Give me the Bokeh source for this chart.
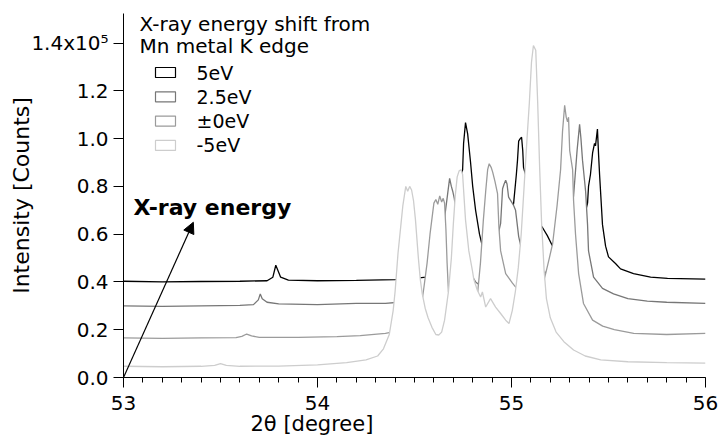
import math
from bokeh.plotting import figure
from bokeh.models import (Range1d, FixedTicker, SingleIntervalTicker, Label, Arrow,
                          NormalHead, BoxAnnotation, ColumnDataSource, Title)
from bokeh.embed import file_html
from bokeh.resources import INLINE

# ---------------- data ----------------
series_names = ["5eV", "2.5eV", "\u00b10eV", "-5eV"]

x_5eV = [53.00, 53.20, 53.40, 53.60, 53.74, 53.77, 53.785, 53.795, 53.81, 53.85,
         54.00, 54.20, 54.40, 54.50, 54.56, 54.62, 54.66, 54.70, 54.72, 54.74,
         54.748, 54.753, 54.763, 54.774, 54.789, 54.80, 54.815, 54.835, 54.851, 54.88,
         54.92, 54.96, 55.00, 55.011, 55.025, 55.031, 55.037, 55.045, 55.052, 55.058,
         55.062, 55.072, 55.083, 55.10, 55.13, 55.158, 55.184, 55.21, 55.25, 55.30,
         55.35, 55.38, 55.392, 55.397, 55.407, 55.418, 55.428, 55.433, 55.443, 55.449,
         55.454, 55.459, 55.469, 55.485, 55.50, 55.536, 55.562, 55.629, 55.717, 55.804,
         56.00]
y_5eV = [0.403, 0.400, 0.402, 0.403, 0.405, 0.420, 0.470, 0.450, 0.420, 0.408,
         0.405, 0.407, 0.410, 0.415, 0.420, 0.440, 0.480, 0.580, 0.700, 0.850,
         0.870, 0.980, 1.067, 1.020, 0.900, 0.800, 0.700, 0.600, 0.546, 0.540,
         0.560, 0.620, 0.680, 0.730, 0.850, 0.910, 0.990, 1.000, 1.006, 0.950,
         0.880, 0.850, 0.810, 0.720, 0.660, 0.630, 0.595, 0.553, 0.560, 0.600,
         0.650, 0.690, 0.730, 0.800, 0.850, 0.940, 0.980, 0.970, 1.040, 0.930,
         0.850, 0.780, 0.640, 0.550, 0.505, 0.477, 0.455, 0.435, 0.420, 0.415,
         0.412]

x_2p5eV = [53.00, 53.20, 53.40, 53.60, 53.67, 53.695, 53.705, 53.715, 53.74, 53.80,
           54.00, 54.20, 54.35, 54.42, 54.50, 54.54, 54.55, 54.57, 54.60, 54.625,
           54.645, 54.66, 54.671, 54.681, 54.69, 54.697, 54.705, 54.712, 54.725, 54.74,
           54.76, 54.785, 54.80, 54.815, 54.83, 54.85, 54.87, 54.89, 54.92, 54.944,
           54.954, 54.962, 54.970, 54.977, 54.985, 55.000, 55.011, 55.021, 55.037, 55.062,
           55.09, 55.13, 55.176, 55.20, 55.23, 55.26, 55.29, 55.32, 55.338, 55.351,
           55.358, 55.366, 55.382, 55.392, 55.397, 55.423, 55.469, 55.526, 55.60, 55.70,
           55.80, 56.00]
y_2p5eV = [0.300, 0.298, 0.300, 0.302, 0.305, 0.325, 0.350, 0.330, 0.315, 0.308,
           0.305, 0.310, 0.310, 0.315, 0.320, 0.335, 0.350, 0.370, 0.420, 0.500,
           0.600, 0.700, 0.770, 0.834, 0.800, 0.780, 0.750, 0.710, 0.620, 0.520,
           0.460, 0.430, 0.420, 0.400, 0.390, 0.400, 0.430, 0.480, 0.560, 0.645,
           0.790, 0.810, 0.826, 0.810, 0.755, 0.735, 0.720, 0.700, 0.590, 0.500,
           0.460, 0.440, 0.440, 0.460, 0.500, 0.550, 0.620, 0.760, 0.950, 1.060,
           1.000, 0.910, 0.780, 0.640, 0.530, 0.420, 0.373, 0.350, 0.330, 0.320,
           0.315, 0.310]

x_0eV = [53.00, 53.20, 53.40, 53.58, 53.61, 53.635, 53.66, 53.70, 53.90, 54.10,
         54.22, 54.35, 54.45, 54.50, 54.53, 54.549, 54.565, 54.58, 54.60, 54.61,
         54.62, 54.63, 54.64, 54.648, 54.655, 54.662, 54.668, 54.675, 54.69, 54.72,
         54.75, 54.78, 54.80, 54.825, 54.84, 54.855, 54.867, 54.877, 54.885, 54.895,
         54.903, 54.915, 54.928, 54.935, 54.944, 54.97, 55.005, 55.035, 55.07, 55.12,
         55.165, 55.176, 55.195, 55.212, 55.235, 55.253, 55.263, 55.274, 55.282, 55.289,
         55.294, 55.30, 55.315, 55.32, 55.33, 55.346, 55.371, 55.418, 55.47, 55.53,
         55.63, 55.80, 56.00]
y_0eV = [0.166, 0.164, 0.166, 0.167, 0.172, 0.182, 0.174, 0.168, 0.168, 0.171,
         0.175, 0.185, 0.200, 0.230, 0.270, 0.380, 0.480, 0.600, 0.730, 0.745,
         0.725, 0.760, 0.735, 0.750, 0.730, 0.620, 0.480, 0.360, 0.300, 0.280,
         0.270, 0.280, 0.300, 0.350, 0.480, 0.660, 0.780, 0.870, 0.895, 0.880,
         0.860, 0.820, 0.770, 0.630, 0.530, 0.435, 0.395, 0.365, 0.350, 0.370,
         0.400, 0.435, 0.500, 0.560, 0.720, 0.870, 1.030, 1.140, 1.090, 1.070,
         1.090, 0.950, 0.870, 0.740, 0.600, 0.435, 0.310, 0.240, 0.215, 0.200,
         0.185, 0.180, 0.185]

x_m5eV = [53.00, 53.20, 53.40, 53.47, 53.50, 53.53, 53.60, 53.80, 54.00, 54.15,
          54.25, 54.31, 54.34, 54.37, 54.39, 54.40, 54.415, 54.43, 54.44, 54.455,
          54.465, 54.475, 54.485, 54.495, 54.505, 54.52, 54.53, 54.54, 54.555, 54.57,
          54.59, 54.61, 54.625, 54.64, 54.655, 54.665, 54.675, 54.69, 54.70, 54.71,
          54.72, 54.73, 54.74, 54.748, 54.755, 54.763, 54.78, 54.798, 54.806, 54.824,
          54.841, 54.85, 54.867, 54.892, 54.918, 54.944, 54.97, 54.987, 55.004, 55.02,
          55.035, 55.05, 55.065, 55.08, 55.092, 55.103, 55.113, 55.125, 55.135, 55.145,
          55.155, 55.168, 55.18, 55.20, 55.23, 55.27, 55.32, 55.38, 55.46, 55.60,
          55.80, 56.00]
y_m5eV = [0.047, 0.045, 0.047, 0.051, 0.058, 0.051, 0.047, 0.048, 0.053, 0.062,
          0.074, 0.090, 0.120, 0.180, 0.280, 0.360, 0.520, 0.640, 0.720, 0.800,
          0.780, 0.800, 0.785, 0.740, 0.660, 0.500, 0.410, 0.350, 0.290, 0.250,
          0.210, 0.180, 0.178, 0.190, 0.240, 0.300, 0.360, 0.500, 0.640, 0.760,
          0.840, 0.865, 0.870, 0.850, 0.760, 0.660, 0.530, 0.450, 0.410, 0.365,
          0.337, 0.358, 0.295, 0.330, 0.295, 0.268, 0.240, 0.226, 0.280, 0.360,
          0.460, 0.600, 0.800, 1.000, 1.150, 1.320, 1.390, 1.370, 1.150, 0.880,
          0.650, 0.450, 0.330, 0.250, 0.190, 0.150, 0.115, 0.090, 0.074, 0.066,
          0.062, 0.060]

series_colors = ["#000000", "#777777", "#9b9b9b", "#cdcdcd"]

y_ticks = [0.0, 0.2, 0.4, 0.6, 0.8, 1.0, 1.2, 1.4]
y_tick_labels = ["0.0", "0.2", "0.4", "0.6", "0.8", "1.0", "1.2", "1.4x10\u2075"]

x_axis_title = "2\u03b8 [degree]"
y_axis_title = "Intensity [Counts]"
legend_title = ["X-ray energy shift from", "Mn metal K edge"]
arrow_text = "X-ray energy"
arrow_start = (53.0, 0.0)
arrow_end = (53.36, 0.65)

FONT = "DejaVu Sans"

# ---------------- figure ----------------
p = figure(width=718, height=438, output_backend="svg", toolbar_location=None,
           x_range=Range1d(53, 56), y_range=Range1d(0, 1.524),
           min_border_left=123, min_border_right=13, min_border_top=13,
           min_border_bottom=61)
p.outline_line_color = None
p.grid.visible = False
p.background_fill_color = "white"
p.border_fill_color = "white"

all_x = [x_5eV, x_2p5eV, x_0eV, x_m5eV]
all_y = [y_5eV, y_2p5eV, y_0eV, y_m5eV]
for xs, ys, col in zip(all_x, all_y, series_colors):
    src = ColumnDataSource(dict(x=xs, y=ys))
    p.varea(x="x", y1=0, y2="y", source=src, fill_color="white", fill_alpha=1.0)
    p.line("x", "y", source=src, line_color=col, line_width=1.3)

# axes
xa = p.xaxis[0]
xa.ticker = SingleIntervalTicker(interval=1, num_minor_ticks=10)
xa.major_tick_out = 10
xa.major_tick_in = 0
xa.minor_tick_out = 5
xa.minor_tick_in = 0
xa.major_label_standoff = 8
ya = p.yaxis[0]
ya.ticker = FixedTicker(ticks=y_ticks)
ya.major_label_overrides = {t: l for t, l in zip(y_ticks, y_tick_labels)}
ya.major_tick_out = 10
ya.major_tick_in = 0
ya.minor_tick_out = 0
ya.minor_tick_in = 0
ya.major_label_standoff = 5
ya.axis_label = y_axis_title
ya.axis_label_standoff = -6
ya.axis_label_text_font = FONT
ya.axis_label_text_font_size = "22px"
ya.axis_label_text_font_style = "normal"
ya.axis_label_text_color = "black"
for ax in (xa, ya):
    ax.axis_line_color = "black"
    ax.major_tick_line_color = "black"
    ax.minor_tick_line_color = "black"
    ax.major_label_text_font = FONT
    ax.major_label_text_font_size = "20px"
    ax.major_label_text_color = "black"

# x-axis title, shifted left like the reference
p.add_layout(Title(text=x_axis_title, align="left", offset=127, standoff=-6,
                   text_font=FONT, text_font_size="21px", text_font_style="normal",
                   text_color="black"), "below")

# legend (title + boxes + labels)
p.add_layout(Label(x=16, y=354, x_units="screen", y_units="screen", text=legend_title[0],
                   text_baseline="middle", text_font=FONT, text_font_size="20px",
                   text_color="black"))
p.add_layout(Label(x=16, y=332, x_units="screen", y_units="screen", text=legend_title[1],
                   text_baseline="middle", text_font=FONT, text_font_size="20px",
                   text_color="black"))
for i, (name, col) in enumerate(zip(series_names, series_colors)):
    cy = 305 - 24.3 * i
    p.add_layout(BoxAnnotation(left=32, right=52, bottom=cy - 5, top=cy + 5,
                               left_units="screen", right_units="screen",
                               top_units="screen", bottom_units="screen",
                               fill_color="white", fill_alpha=1.0,
                               line_color=col, line_alpha=1.0, line_width=1.2))
    p.add_layout(Label(x=73, y=cy, x_units="screen", y_units="screen", text=name,
                       text_baseline="middle", text_font=FONT, text_font_size="19px",
                       text_color="black"))

# arrow + text
p.add_layout(Arrow(end=NormalHead(size=11, fill_color="black", line_color="black"),
                   x_start=arrow_start[0], y_start=arrow_start[1],
                   x_end=arrow_end[0], y_end=arrow_end[1],
                   line_color="black", line_width=1.2))
p.add_layout(Label(x=10, y=170, x_units="screen", y_units="screen", text=arrow_text,
                   text_baseline="middle", text_font=FONT, text_font_size="22px",
                   text_font_style="bold", text_color="black"))

open("out.html", "w").write(file_html(p, INLINE))
